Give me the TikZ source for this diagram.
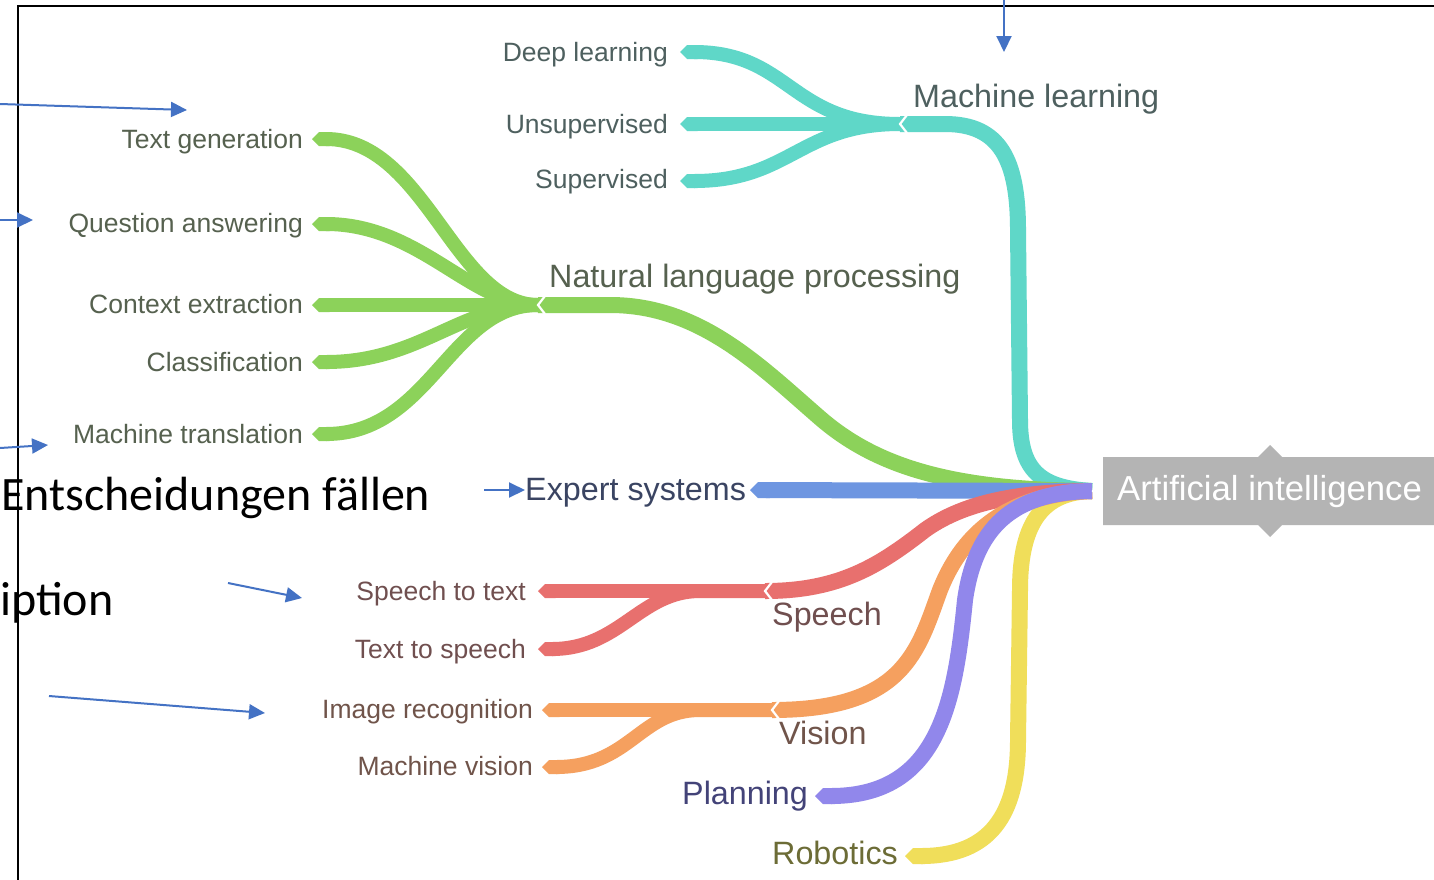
\documentclass[tikz,border=0pt]{standalone}
\usepackage{fontspec}
\setmainfont{Liberation Sans}
\newfontfamily\calibri{Carlito}
\usetikzlibrary{arrows.meta}
\definecolor{cteal}{HTML}{5FD7C8}
\definecolor{cgreen}{HTML}{8CD25A}
\definecolor{cblue}{HTML}{6E96E1}
\definecolor{cred}{HTML}{E8706E}
\definecolor{corange}{HTML}{F5A05F}
\definecolor{cpurple}{HTML}{9187EB}
\definecolor{cyellow}{HTML}{F0DE5A}
\definecolor{cbox}{HTML}{B4B4B4}
\definecolor{noteblue}{HTML}{4472C4}
\definecolor{tml}{HTML}{4E605F}
\definecolor{tnlp}{HTML}{56614F}
\definecolor{texp}{HTML}{3A4462}
\definecolor{tsp}{HTML}{704F4F}
\definecolor{tvi}{HTML}{70544A}
\definecolor{tpl}{HTML}{434378}
\definecolor{trob}{HTML}{6C6C36}
\tikzset{
  mainbr/.style={line width=16pt},
  subbr/.style={line width=14pt, -{Triangle Cap}},
  leaflbl/.style={anchor=base east, inner sep=0pt, font=\fontsize{26.5}{28}\selectfont},
  catlbl/.style={anchor=base west, inner sep=0pt, font=\fontsize{32.3}{34}\selectfont},
  note/.style={draw=noteblue, line width=2pt, -{Triangle[length=16pt,width=15pt]}},
  notch/.style={draw=white, line width=2.2pt},
  bigtext/.style={anchor=base west, inner sep=0pt, font=\calibri\fontsize{48}{50}\selectfont}
}
\begin{document}
\begin{tikzpicture}[x=1pt,y=-1pt]
\useasboundingbox (0,0) rectangle (1434,879);
\clip (0,0) rectangle (1434,879);
\fill[white] (0,0) rectangle (1434,879);

% key points
\coordinate (hub) at (1092,491);
\coordinate (mlj) at (900,124);
\coordinate (nlpj) at (538,305);
\coordinate (spj) at (765,591);
\coordinate (vij) at (772,710);
\coordinate (ldl) at (680,52);
\coordinate (lun) at (680,124);
\coordinate (lsu) at (680,181);
\coordinate (ltg) at (312,139);
\coordinate (lqa) at (312,224);
\coordinate (lce) at (312,305);
\coordinate (lcl) at (312,362);
\coordinate (lmt) at (312,434);
\coordinate (lex) at (750,490);
\coordinate (lstt) at (538,591);
\coordinate (ltts) at (538,649);
\coordinate (lir) at (542,710);
\coordinate (lmv) at (542,767);
\coordinate (lpl) at (815,796);
\coordinate (lrob) at (905,856);

% central box
\fill[cbox] (1103,457) -- (1258,457) -- (1270,445) -- (1282,457) -- (1434,457)
  -- (1434,525) -- (1282,525) -- (1270,537) -- (1258,525) -- (1103,525) -- cycle;
\node[anchor=base west, inner sep=0pt, text=white, font=\fontsize{34.7}{36}\selectfont] (ai) at (1117,500) {Artificial intelligence};

% Robotics
\draw[mainbr, cyellow, -{Triangle Cap}] (hub) .. controls (1045,492) and (1020,520) .. (1020,590)
  -- (1018,740) .. controls (1018,815) and (990,856) .. (lrob);
% Machine learning
\draw[mainbr, cteal] (hub) .. controls (1040,488) and (1020,470) .. (1020,420)
  -- (1018,230) .. controls (1018,160) and (1000,124) .. (945,124) -- (mlj);
\draw[subbr, cteal] (mlj) .. controls (790,124) and (790,52) .. (ldl);
\draw[subbr, cteal] (mlj) -- (lun);
\draw[subbr, cteal] (mlj) .. controls (800,124) and (790,181) .. (lsu);
% NLP
\draw[mainbr, cgreen] (hub) .. controls (960,490) and (880,470) .. (820,418)
  .. controls (760,366) and (700,305) .. (610,305) -- (nlpj);
\draw[subbr, cgreen] (nlpj) .. controls (455,305) and (425,139) .. (ltg);
\draw[subbr, cgreen] (nlpj) .. controls (470,305) and (420,224) .. (lqa);
\draw[subbr, cgreen] (nlpj) -- (lce);
\draw[subbr, cgreen] (nlpj) .. controls (460,305) and (420,362) .. (lcl);
\draw[subbr, cgreen] (nlpj) .. controls (450,305) and (430,434) .. (lmt);
% Expert systems
\draw[mainbr, cblue, -{Triangle Cap}] (hub) -- (lex);
% Speech
\draw[mainbr, cred] (hub) .. controls (1010,492) and (960,505) .. (925,530)
  .. controls (880,565) and (840,591) .. (spj);
\draw[subbr, cred] (spj) -- (lstt);
\draw[subbr, cred] (spj) -- (700,591) .. controls (640,591) and (620,649) .. (ltts);
% Vision
\draw[mainbr, corange] (hub) .. controls (1000,494) and (960,540) .. (940,590)
  .. controls (918,650) and (905,710) .. (vij);
\draw[subbr, corange] (vij) -- (lir);
\draw[subbr, corange] (vij) -- (700,710) .. controls (640,710) and (630,767) .. (lmv);
% Planning
\draw[mainbr, cpurple, -{Triangle Cap}] (hub) .. controls (1010,492) and (975,530) .. (965,600)
  .. controls (955,700) and (940,796) .. (lpl);

% notches
\draw[notch] ([shift={(7,-9)}]mlj) -- (mlj) -- ([shift={(7,9)}]mlj);
\draw[notch] ([shift={(7,-9)}]nlpj) -- (nlpj) -- ([shift={(7,9)}]nlpj);
\draw[notch] ([shift={(7,-9)}]spj) -- (spj) -- ([shift={(7,9)}]spj);
\draw[notch] ([shift={(7,-9)}]vij) -- (vij) -- ([shift={(7,9)}]vij);
\draw[notch] ([shift={(9,-10)}]hub) -- ([shift={(1,0)}]hub) -- ([shift={(9,10)}]hub);

% leaf labels
\node[leaflbl, text=tml] (dl) at (668,61) {Deep learning};
\node[leaflbl, text=tml] (un) at (668,133) {Unsupervised};
\node[leaflbl, text=tml] (su) at (668,188) {Supervised};
\node[leaflbl, text=tnlp] (tg) at (303,148) {Text generation};
\node[leaflbl, text=tnlp] (qa) at (303,232) {Question answering};
\node[leaflbl, text=tnlp] (ce) at (303,313) {Context extraction};
\node[leaflbl, text=tnlp] (cl) at (303,371) {Classification};
\node[leaflbl, text=tnlp] (mt) at (303,443) {Machine translation};
\node[leaflbl, text=tsp] (stt) at (526,600) {Speech to text};
\node[leaflbl, text=tsp] (tts) at (526,658) {Text to speech};
\node[leaflbl, text=tvi] (ir) at (533,718) {Image recognition};
\node[leaflbl, text=tvi] (mv) at (533,775) {Machine vision};

% category labels
\node[catlbl, text=tml] (ml) at (913,107) {Machine learning};
\node[catlbl, text=tnlp] (nlp) at (549,287) {Natural language processing};
\node[catlbl, text=texp] (ex) at (525,500) {Expert systems};
\node[catlbl, text=tsp] (sp) at (772,625) {Speech};
\node[catlbl, text=tvi] (vi) at (779,744) {Vision};
\node[catlbl, text=tpl] (pl) at (682,804) {Planning};
\node[catlbl, text=trob] (rob) at (772,864) {Robotics};

% overlay texts
\node[bigtext] (ent) at (1,510) {Entscheidungen fällen};
\node[bigtext] (ipt) at (0,615) {iption};

% frame
\draw[line width=2pt] (18,880) -- (18,6) -- (1436,6);

% annotation arrows
\coordinate (a1s) at (0,104);  \coordinate (a1e) at (187,110);
\coordinate (a2s) at (0,220);  \coordinate (a2e) at (33,220);
\coordinate (a3s) at (0,448);  \coordinate (a3e) at (48,445);
\coordinate (a4s) at (484,490); \coordinate (a4e) at (525,490);
\coordinate (a5s) at (228,583); \coordinate (a5e) at (302,598);
\coordinate (a6s) at (49,696);  \coordinate (a6e) at (265,713);
\coordinate (a7s) at (1004,0);  \coordinate (a7e) at (1004,52);
\draw[note] (a1s) -- (a1e);
\draw[note] (a2s) -- (a2e);
\draw[note] (a3s) -- (a3e);
\draw[note] (a4s) -- (a4e);
\draw[note] (a5s) -- (a5e);
\draw[note] (a6s) -- (a6e);
\draw[note] (a7s) -- (a7e);
\end{tikzpicture}
\end{document}
